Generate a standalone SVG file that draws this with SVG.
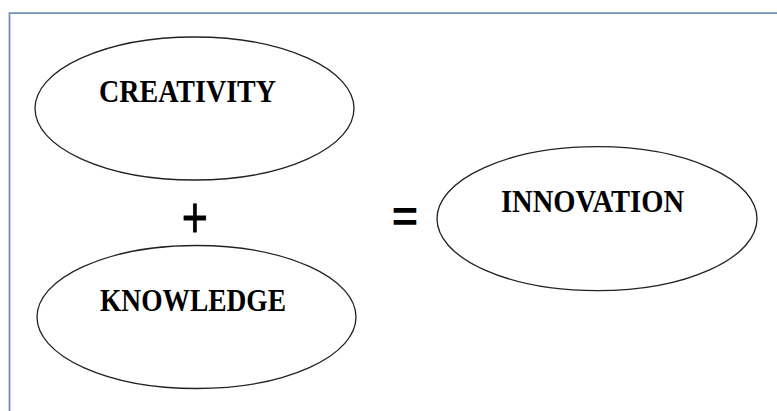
<svg xmlns="http://www.w3.org/2000/svg" width="777" height="411" viewBox="0 0 777 411">
<style>
.node ellipse{fill:#fff;stroke:#222;stroke-width:1.3}
.lbl{font-family:"Liberation Serif","Times New Roman",serif;font-weight:bold;font-size:31.5px;fill:#000}
.op{font-family:"Liberation Sans",Arial,sans-serif;font-size:45px;fill:#000}
</style>
<rect width="777" height="411" fill="#fff"/>
<path d="M9.5,420 V13.2 H777" fill="none" stroke="#7090b5" stroke-width="1.8"/>
<g id="creativity" class="node">
<ellipse cx="194.5" cy="108.5" rx="159.5" ry="71.5"/>
<text class="lbl" x="99" y="101.5" textLength="177" lengthAdjust="spacingAndGlyphs">CREATIVITY</text>
</g>
<g id="knowledge" class="node">
<ellipse cx="196.5" cy="317" rx="159.5" ry="71.5"/>
<text class="lbl" x="100" y="310.5" textLength="186" lengthAdjust="spacingAndGlyphs">KNOWLEDGE</text>
</g>
<g id="innovation" class="node">
<ellipse cx="597" cy="218.7" rx="160" ry="72"/>
<text class="lbl" x="501" y="212" textLength="183" lengthAdjust="spacingAndGlyphs">INNOVATION</text>
</g>
<g id="operators">
<text class="op" text-anchor="middle" stroke="#000" stroke-width="0.6" transform="translate(195,237) scale(1,1.29)">+</text>
<text class="op" text-anchor="middle" font-weight="bold" transform="translate(405,232)">=</text>
</g>
</svg>
